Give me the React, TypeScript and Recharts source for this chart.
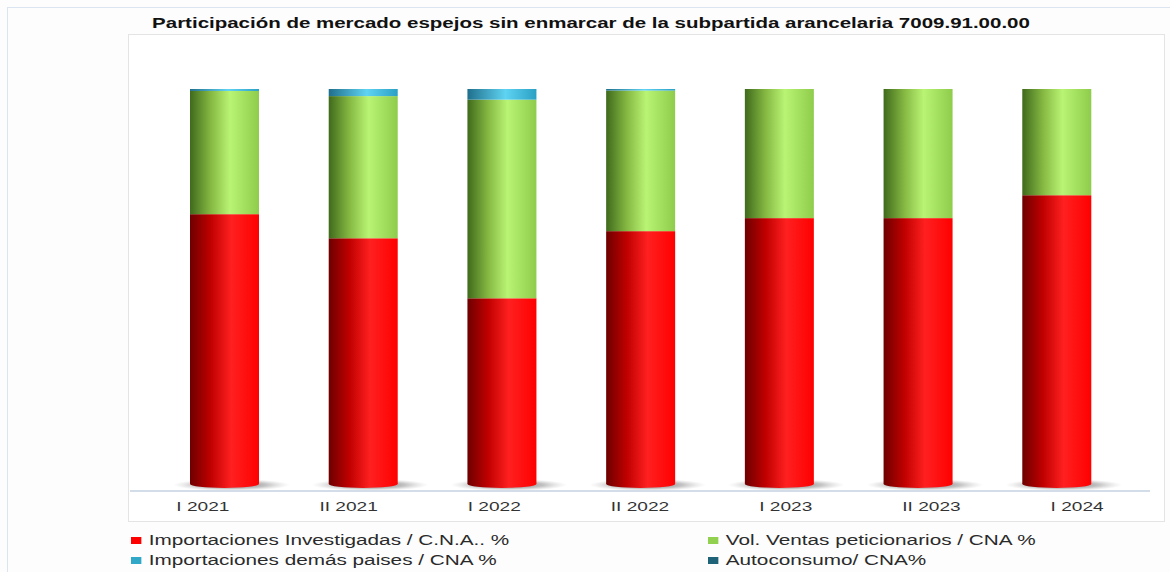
import React from "react";
import { BarChart, Bar, XAxis, YAxis, Legend } from "recharts";

const categories = ["I 2021", "II 2021", "I 2022", "II 2022", "I 2023", "II 2023", "I 2024"];
const importInvestigadas = [68.3, 62.2, 47.0, 64.0, 67.3, 67.3, 73.1];
const ventasPeticionarios = [31.2, 36.0, 50.3, 35.6, 32.7, 32.7, 26.9];
const importDemas = [0.5, 1.8, 2.7, 0.4, 0, 0, 0];
const autoconsumo = [0, 0, 0, 0, 0, 0, 0];

const seriesNames = [
  "Importaciones Investigadas / C.N.A.. %",
  "Vol. Ventas peticionarios / CNA %",
  "Importaciones demás paises / CNA %",
  "Autoconsumo/ CNA%",
];
const seriesColors = ["#ff0000", "#92d050", "#31a8c8", "#1f6378"];

const data = categories.map((c, i) => ({
  name: c,
  inv: importInvestigadas[i],
  pet: ventasPeticionarios[i],
  dem: importDemas[i],
  auto: autoconsumo[i],
}));

const FONT = "'Liberation Sans', Arial, sans-serif";
const STRETCH = 1.47;

const RedShape = (props: any) => {
  const { x, y, width, height } = props;
  if (!height || height <= 0) return null;
  const cx = x + width / 2;
  const by = y + height;
  return (
    <g>
      <ellipse cx={cx + 7} cy={by + 1} rx={width / 2 + 24} ry={6} fill="url(#shadowGrad)" />
      <rect x={x} y={y} width={width} height={height} fill="url(#redGrad)" />
      <ellipse cx={cx} cy={by} rx={width / 2} ry={4} fill="url(#redGrad)" />
    </g>
  );
};

const makeShape = (grad: string) => (props: any) => {
  const { x, y, width, height } = props;
  if (!height || height <= 0) return null;
  return <rect x={x} y={y} width={width} height={height} fill={`url(#${grad})`} />;
};
const GreenShape = makeShape("greenGrad");
const BlueShape = makeShape("blueGrad");
const TealShape = makeShape("tealGrad");

const StretchedTick = (props: any) => {
  const { x, y, payload } = props;
  return (
    <g transform={`translate(${x},${y + 20})`}>
      <text
        x={0}
        y={0}
        textAnchor="middle"
        transform={`scale(${STRETCH},1)`}
        fontSize={13}
        fontFamily={FONT}
        fill="#333"
      >
        {payload.value}
      </text>
    </g>
  );
};

const renderLegend = () => {
  const items = [
    { name: seriesNames[0], color: seriesColors[0], left: 131, top: 0 },
    { name: seriesNames[1], color: seriesColors[1], left: 708, top: 0 },
    { name: seriesNames[2], color: seriesColors[2], left: 131, top: 20 },
    { name: seriesNames[3], color: seriesColors[3], left: 708, top: 20 },
  ];
  return (
    <div style={{ position: "relative", width: 1170, height: 44, fontFamily: FONT }}>
      {items.map((it) => (
        <div
          key={it.name}
          style={{
            position: "absolute",
            left: it.left,
            top: it.top,
            display: "flex",
            alignItems: "center",
            fontSize: 14,
            color: "#2a2a2a",
            whiteSpace: "nowrap",
            lineHeight: "20px",
            transform: "scaleX(1.48)",
            transformOrigin: "0 0",
          }}
        >
          <span style={{ display: "inline-block", width: 7, height: 7, background: it.color, marginRight: 5 }} />
          {it.name}
        </div>
      ))}
    </div>
  );
};

export default function App() {
  return (
    <div style={{ position: "absolute", left: 0, top: 0, width: 1170, height: 572, background: "#fdfdfd", overflow: "hidden" }}>
      <div style={{ position: "absolute", left: 7, top: 7, width: 1180, height: 580, border: "1px solid #dae5f1", boxSizing: "border-box" }} />
      <div style={{ position: "absolute", left: 128, top: 34, width: 1037, height: 488, border: "1px solid #e4e4e4", background: "#ffffff", boxSizing: "border-box" }} />
      <div
        style={{
          position: "absolute",
          left: 0,
          top: 15,
          width: 1182,
          textAlign: "center",
          fontFamily: FONT,
          fontWeight: "bold",
          fontSize: 14,
          lineHeight: "16px",
          color: "#111",
          whiteSpace: "nowrap",
          transform: "scaleX(1.463)",
          transformOrigin: "591px 0",
        }}
      >
        Participación de mercado espejos sin enmarcar de la subpartida arancelaria 7009.91.00.00
      </div>
      <div style={{ position: "absolute", left: 0, top: 0 }}>
        <BarChart width={1170} height={572} data={data} margin={{ top: 89, right: 20, bottom: 0, left: 130 }} barSize={69}>
          <defs>
            <linearGradient id="redGrad" x1="0" y1="0" x2="1" y2="0">
              <stop offset="0%" stopColor="#6e0000" />
              <stop offset="30%" stopColor="#c00000" />
              <stop offset="60%" stopColor="#ff2020" />
              <stop offset="100%" stopColor="#ff0000" />
            </linearGradient>
            <linearGradient id="greenGrad" x1="0" y1="0" x2="1" y2="0">
              <stop offset="0%" stopColor="#3f6a1c" />
              <stop offset="30%" stopColor="#85b842" />
              <stop offset="58%" stopColor="#b9f474" />
              <stop offset="100%" stopColor="#8fcc4c" />
            </linearGradient>
            <linearGradient id="blueGrad" x1="0" y1="0" x2="1" y2="0">
              <stop offset="0%" stopColor="#1f6f8c" />
              <stop offset="55%" stopColor="#5fd3f2" />
              <stop offset="100%" stopColor="#2aa0c4" />
            </linearGradient>
            <linearGradient id="tealGrad" x1="0" y1="0" x2="1" y2="0">
              <stop offset="0%" stopColor="#123f4d" />
              <stop offset="55%" stopColor="#2a8aa6" />
              <stop offset="100%" stopColor="#1f6378" />
            </linearGradient>
            <radialGradient id="shadowGrad" cx="0.5" cy="0.5" r="0.5">
              <stop offset="0%" stopColor="#555" stopOpacity={0.9} />
              <stop offset="60%" stopColor="#888" stopOpacity={0.5} />
              <stop offset="100%" stopColor="#bbb" stopOpacity={0} />
            </radialGradient>
          </defs>
          <XAxis
            xAxisId="a_labels"
            dataKey="name"
            height={37}
            axisLine={{ stroke: "#d3dde9", strokeWidth: 2 }}
            tickLine={false}
            tickSize={0}
            tickMargin={0}
            tick={StretchedTick}
            interval={0}
          />
          <XAxis xAxisId="b_bars" dataKey="name" hide height={0} padding={{ left: 25, right: 24 }} />
          <YAxis hide domain={[-1.8, 100]} allowDataOverflow />
          <Legend
            content={renderLegend}
            wrapperStyle={{ position: "absolute", left: 0, top: 530, width: 1170, height: 44 }}
          />
          <Bar xAxisId="b_bars" dataKey="inv" name={seriesNames[0]} stackId="a" fill={seriesColors[0]} shape={RedShape} isAnimationActive={false} />
          <Bar xAxisId="b_bars" dataKey="pet" name={seriesNames[1]} stackId="a" fill={seriesColors[1]} shape={GreenShape} isAnimationActive={false} />
          <Bar xAxisId="b_bars" dataKey="dem" name={seriesNames[2]} stackId="a" fill={seriesColors[2]} shape={BlueShape} isAnimationActive={false} />
          <Bar xAxisId="b_bars" dataKey="auto" name={seriesNames[3]} stackId="a" fill={seriesColors[3]} shape={TealShape} isAnimationActive={false} />
        </BarChart>
      </div>
    </div>
  );
}
